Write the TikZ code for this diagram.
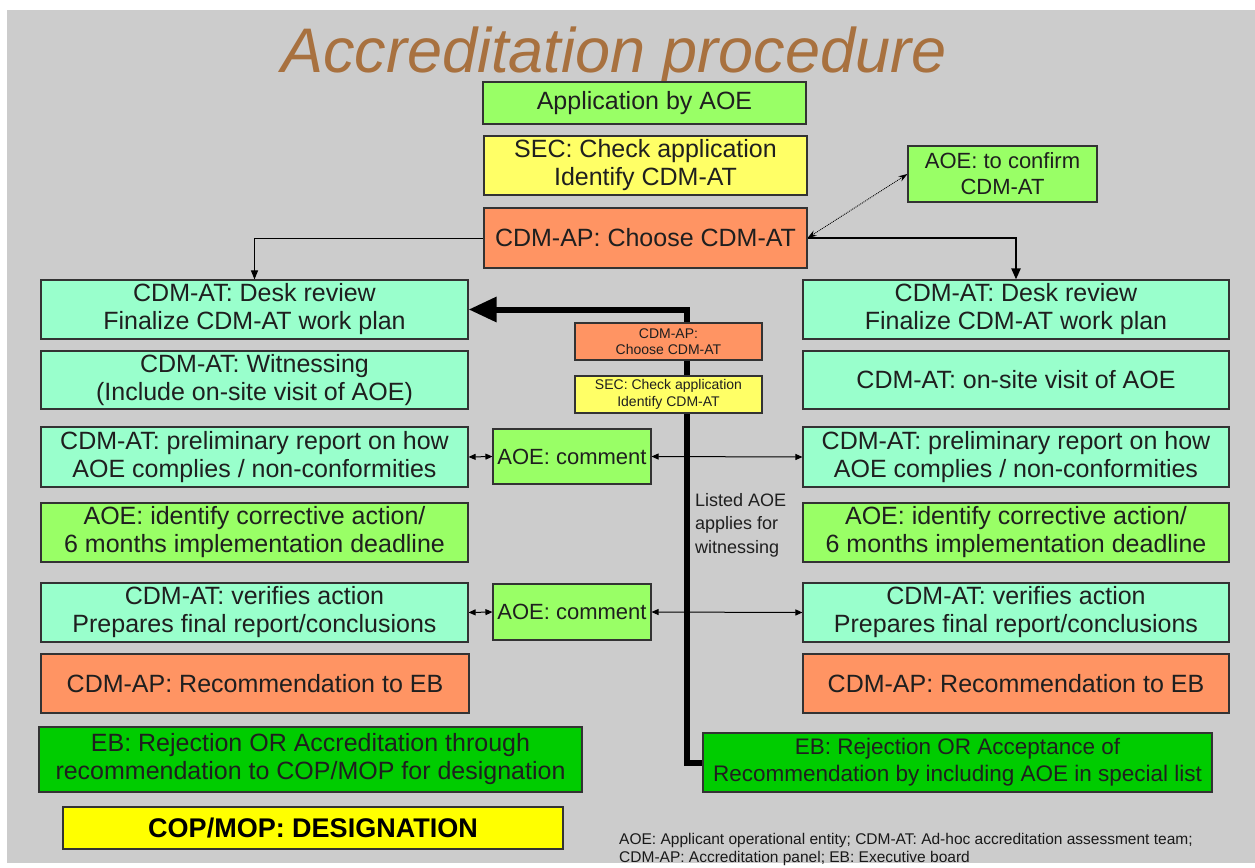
\documentclass[tikz,border=0pt]{standalone}
\usepackage{fontspec}
\setmainfont{Liberation Sans}
\usetikzlibrary{arrows.meta}
\pgfdeclarelayer{bglayer}
\pgfsetlayers{bglayer,main}
\definecolor{bggrey}{HTML}{CCCCCC}
\definecolor{lgreen}{HTML}{99FF66}
\definecolor{lyellow}{HTML}{FFFF66}
\definecolor{orng}{HTML}{FF9463}
\definecolor{aqua}{HTML}{99FFCC}
\definecolor{dgreen}{HTML}{00CC00}
\definecolor{byellow}{HTML}{FFFF00}
\definecolor{titlec}{HTML}{A8713F}
\begin{document}
\begin{tikzpicture}[x=1pt,y=-1pt,
  box/.style={draw=black!80, line width=1.1pt, inner sep=0pt, align=center, text=black!88, font=\fontsize{25}{28}\selectfont},
  colbox/.style={box, minimum width=427pt, minimum height=59pt},
  smallbox/.style={box, minimum width=187pt, minimum height=37pt, font=\fontsize{14}{16.5}\selectfont},
  cmtbox/.style={box, fill=lgreen, minimum width=158pt, minimum height=55pt, font=\fontsize{22}{26}\selectfont},
  thinarrow/.style={line width=1pt, -{Triangle[length=9pt,width=7pt]}},
  dblarrow/.style={line width=1pt, {Triangle[length=7pt,width=6pt]}-{Triangle[length=7pt,width=6pt]}},
  thickarrow/.style={line width=6pt, line join=miter, -{Triangle[length=28pt,width=24pt]}}
]
\useasboundingbox (0,0) rectangle (1255,867);

% title
\node[anchor=base west, inner sep=0pt, text=titlec, font=\fontsize{63}{70}\selectfont\itshape] (title) at (281,73) {Accreditation procedure};

% top boxes
\node[box, fill=lgreen, minimum width=323pt, minimum height=42pt] (app) at (644.5,103) {Application by AOE};
\node[box, fill=lyellow, minimum width=323pt, minimum height=59pt] (sec) at (645.5,165.5) {SEC: Check application\\Identify CDM-AT};
\node[box, fill=orng, minimum width=323pt, minimum height=60pt] (cdmap) at (645.5,238) {CDM-AP: Choose CDM-AT};
\node[box, fill=lgreen, minimum width=189pt, minimum height=56pt, font=\fontsize{22}{26}\selectfont] (confirm) at (1002.5,174) {AOE: to confirm\\CDM-AT};

% left column
\node[colbox, fill=aqua] (deskL) at (254.5,309.5) {CDM-AT: Desk review\\Finalize CDM-AT work plan};
\node[colbox, fill=aqua, minimum height=58pt] (witL) at (254.5,380) {CDM-AT: Witnessing\\(Include on-site visit of AOE)};
\node[colbox, fill=aqua, minimum height=60pt] (prelimL) at (254.5,457) {CDM-AT: preliminary report on how\\AOE complies / non-conformities};
\node[colbox, fill=lgreen] (identL) at (254.5,532.5) {AOE: identify corrective action/\\6 months implementation deadline};
\node[colbox, fill=aqua] (verL) at (254.5,612.5) {CDM-AT: verifies action\\Prepares final report/conclusions};
\node[colbox, fill=orng, minimum width=428pt] (recL) at (255,683.5) {CDM-AP: Recommendation to EB};
\node[box, fill=dgreen, minimum width=543pt, minimum height=65pt] (ebL) at (310.5,759.5) {EB: Rejection OR Accreditation through\\recommendation to COP/MOP for designation};
\node[box, fill=byellow, minimum width=500pt, minimum height=42pt, font=\fontsize{27}{30}\selectfont\bfseries, text=black] (cop) at (313,828) {COP/MOP: DESIGNATION};

% right column
\node[colbox, fill=aqua, minimum width=426pt] (deskR) at (1016,309.5) {CDM-AT: Desk review\\Finalize CDM-AT work plan};
\node[colbox, fill=aqua, minimum width=426pt, minimum height=58pt] (witR) at (1016,380) {CDM-AT: on-site visit of AOE};
\node[colbox, fill=aqua, minimum width=426pt, minimum height=60pt] (prelimR) at (1016,457) {CDM-AT: preliminary report on how\\AOE complies / non-conformities};
\node[colbox, fill=lgreen, minimum width=426pt] (identR) at (1016,532.5) {AOE: identify corrective action/\\6 months implementation deadline};
\node[colbox, fill=aqua, minimum width=426pt] (verR) at (1016,612.5) {CDM-AT: verifies action\\Prepares final report/conclusions};
\node[colbox, fill=orng, minimum width=426pt] (recR) at (1016,683.5) {CDM-AP: Recommendation to EB};
\node[box, fill=dgreen, minimum width=509pt, minimum height=59pt, font=\fontsize{22.5}{27}\selectfont] (ebR) at (957.5,762.5) {EB: Rejection OR Acceptance of\\Recommendation by including AOE in special list};

% middle
\node[cmtbox] (c1) at (572,456.5) {AOE: comment};
\node[cmtbox, minimum height=56pt] (c2) at (572,612) {AOE: comment};
\node[smallbox, fill=orng] (sorng) at (668.5,341.5) {CDM-AP:\\Choose CDM-AT};
\node[smallbox, fill=lyellow] (syell) at (668.5,394.5) {SEC: Check application\\Identify CDM-AT};
\node[anchor=west, inner sep=0pt, align=left, text=black!88, font=\fontsize{18}{23.5}\selectfont] (listed) at (695,525) {Listed AOE\\applies for\\witnessing};

% footer
\node[anchor=west, inner sep=0pt, align=left, text=black!90, font=\fontsize{15.5}{18}\selectfont] (foot) at (619,849) {AOE: Applicant operational entity; CDM-AT: Ad-hoc accreditation assessment team;\\CDM-AP: Accreditation panel; EB: Executive board};

\begin{pgfonlayer}{bglayer}
\fill[white] (0,0) rectangle (1255,867);
\fill[bggrey] (7,10) rectangle (1255,863);
\draw[thinarrow] (cdmap.west) -| (deskL.north);
\draw[line width=2.2pt, -{Triangle[length=11pt,width=9pt]}] (cdmap.east) -| (deskR.north);
\draw[densely dotted, line width=0.9pt, {Stealth[length=9pt,width=6pt]}-{Stealth[length=9pt,width=6pt]}] (cdmap.east) -- (confirm.west);
\draw[dblarrow] (prelimL.east) -- (c1.west);
\draw[dblarrow] (c1.east) -- (prelimR.west);
\draw[dblarrow] (verL.east) -- (c2.west);
\draw[dblarrow] (c2.east) -- (verR.west);
\coordinate (tkx) at (687,0);
\draw[thickarrow] (ebR.west) -| (deskL.east -| tkx) -- (deskL.east);
\end{pgfonlayer}
\end{tikzpicture}
\end{document}
